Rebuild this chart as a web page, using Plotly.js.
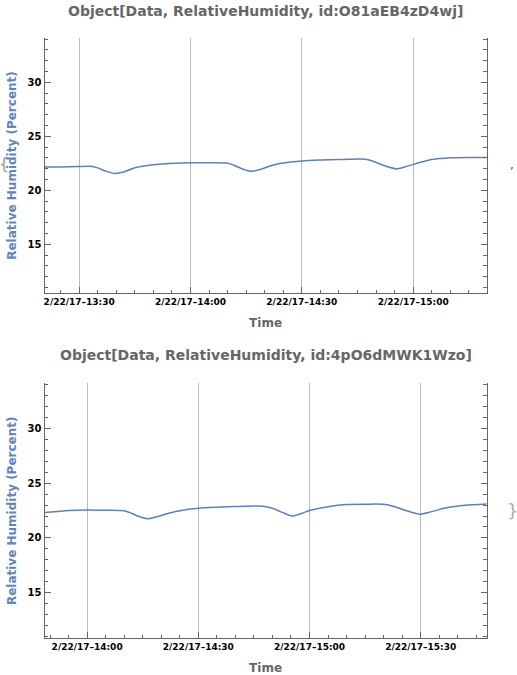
<!DOCTYPE html>
<html>
<head>
<meta charset="utf-8">
<script src="https://cdn.plot.ly/plotly-3.0.1.min.js"></script>
<style>html,body{margin:0;padding:0;background:#fff;}#chart{width:517px;height:675px;}</style>
</head>
<body>
<div id="chart"></div>
<script>
// ---- Data ----
const day = "2017-02-22 ";
const topTitle = "Object[Data, RelativeHumidity, id:O81aEB4zD4wj]";
const bottomTitle = "Object[Data, RelativeHumidity, id:4pO6dMWK1Wzo]";

const topTimes = ["13:20:40","13:25","13:30","13:33","13:35","13:37","13:39:30","13:42","13:45","13:47","13:50","13:53","14:00","14:05","14:10","14:12","14:14","14:16:30","14:19","14:21","14:24","14:27","14:30","14:35","14:40","14:47","14:49","14:51:45","14:55:30","14:58","15:02","15:05","15:10","15:15","15:19:48"];
const topValues = [22.15,22.17,22.2,22.22,22.08,21.8,21.57,21.7,22.1,22.22,22.36,22.46,22.55,22.56,22.52,22.28,21.98,21.77,21.95,22.2,22.48,22.62,22.72,22.8,22.85,22.88,22.72,22.34,21.98,22.2,22.6,22.85,23.02,23.05,23.05];

const bottomTimes = ["13:48:30","13:52","13:55","14:00","14:05","14:10","14:12","14:14","14:16:20","14:19","14:22","14:25","14:30","14:35","14:40","14:47:30","14:50","14:52:30","14:55:20","14:58","15:00","15:05","15:10","15:15","15:20","15:23","15:26","15:29:50","15:33","15:37","15:42","15:47:48"];
const bottomValues = [22.33,22.42,22.5,22.55,22.53,22.48,22.25,21.95,21.75,21.95,22.25,22.48,22.7,22.8,22.87,22.9,22.7,22.35,22.0,22.25,22.5,22.85,23.05,23.08,23.07,22.85,22.5,22.15,22.4,22.75,22.98,23.1];

const topTickTimes = ["13:30","14:00","14:30","15:00"];
const topTickText = ["2/22/17–13:30","2/22/17–14:00","2/22/17–14:30","2/22/17–15:00"];
const bottomTickTimes = ["14:00","14:30","15:00","15:30"];
const bottomTickText = ["2/22/17–14:00","2/22/17–14:30","2/22/17–15:00","2/22/17–15:30"];

const topXRange = ["13:20:40","15:19:48"];
const bottomXRange = ["13:48:30","15:47:48"];
const topYRange = [10.5, 34.1];
const bottomYRange = [10.85, 34.1];

// ---- Styling ----
const W = 517, H = 675;
const lineColor = "#5E81B5";
const font = "DejaVu Sans, sans-serif";
const xDom = [44.5/W, 486.7/W];
const topYDom = [1-293/H, 1-38/H];
const botYDom = [1-638.3/H, 1-383.3/H];
const full = t => day + (t.length === 5 ? t + ":00" : t);

function xAxis(dom, range, tv, tt, anchor) {
  return {
    domain: dom, anchor: anchor, type: "date",
    range: range.map(full),
    tickmode: "array", tickvals: tv.map(full), ticktext: tt,
    ticks: "inside", ticklen: 6, tickcolor: "#666", tickwidth: 1,
    minor: {ticks: "inside", ticklen: 3.5, dtick: 300000, tick0: full("13:00"), tickcolor: "#666", showgrid: false},
    showline: true, linecolor: "#666", linewidth: 1, mirror: false,
    showgrid: true, gridcolor: "#bbbbbb", gridwidth: 1,
    zeroline: false,
    tickfont: {family: font, size: 9, color: "#000", weight: "bold"},
    title: {text: "Time", font: {family: font, size: 12, color: "#666", weight: "bold"}, standoff: 12}
  };
}
function yAxis(dom, range, anchor) {
  return {
    domain: dom, anchor: anchor, range: range,
    tickmode: "linear", tick0: 15, dtick: 5,
    ticks: "inside", ticklen: 6, tickcolor: "#666", tickwidth: 1,
    minor: {ticks: "inside", ticklen: 3.5, dtick: 1, tick0: 10, tickcolor: "#666", showgrid: false},
    showline: true, linecolor: "#666", linewidth: 1, mirror: "ticks",
    showgrid: false, zeroline: false,
    tickfont: {family: font, size: 10, color: "#000", weight: "bold"},
    title: {text: "Relative Humidity (Percent)", font: {family: font, size: 12, color: "#6384BA", weight: "bold"}, standoff: 8}
  };
}

const traces = [
  {x: topTimes.map(full), y: topValues, xaxis: "x", yaxis: "y", type: "scatter", mode: "lines",
   line: {color: lineColor, width: 1.5, shape: "spline", smoothing: 0.6}, hoverinfo: "skip"},
  {x: bottomTimes.map(full), y: bottomValues, xaxis: "x2", yaxis: "y2", type: "scatter", mode: "lines",
   line: {color: lineColor, width: 1.5, shape: "spline", smoothing: 0.6}, hoverinfo: "skip"}
];

const layout = {
  width: W, height: H,
  margin: {l: 0, r: 0, t: 0, b: 0},
  paper_bgcolor: "#fff", plot_bgcolor: "#fff",
  showlegend: false,
  xaxis: xAxis(xDom, topXRange, topTickTimes, topTickText, "y"),
  yaxis: yAxis(topYDom, topYRange, "x"),
  xaxis2: xAxis(xDom, bottomXRange, bottomTickTimes, bottomTickText, "y2"),
  yaxis2: yAxis(botYDom, bottomYRange, "x2"),
  annotations: [
    {text: topTitle, xref: "paper", yref: "paper", x: 265.5/W, y: 1-11/H, showarrow: false,
     xanchor: "center", yanchor: "middle", font: {family: font, size: 14, color: "#666", weight: "bold"}},
    {text: bottomTitle, xref: "paper", yref: "paper", x: 265.5/W, y: 1-355/H, showarrow: false,
     xanchor: "center", yanchor: "middle", font: {family: font, size: 14, color: "#666", weight: "bold"}},
    {text: "{", xref: "paper", yref: "paper", x: 4/W, y: 1-163/H, showarrow: false,
     xanchor: "center", yanchor: "middle", font: {family: font, size: 16, color: "#999"}},
    {text: ",", xref: "paper", yref: "paper", x: 512/W, y: 1-165/H, showarrow: false,
     xanchor: "center", yanchor: "middle", font: {family: font, size: 12, color: "#555"}},
    {text: "}", xref: "paper", yref: "paper", x: 512/W, y: 1-510/H, showarrow: false,
     xanchor: "center", yanchor: "middle", font: {family: font, size: 18, color: "#aaa"}}
  ]
};

Plotly.newPlot("chart", traces, layout, {staticPlot: true, displayModeBar: false});
</script>
</body>
</html>
